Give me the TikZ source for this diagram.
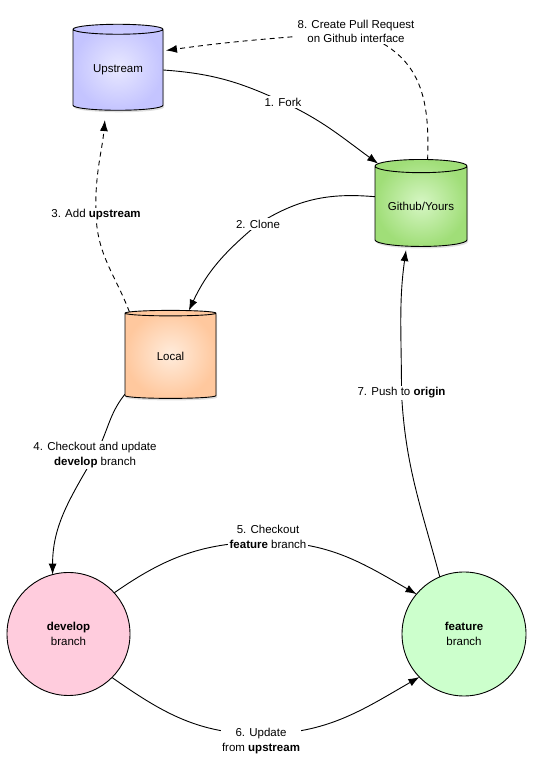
\documentclass[tikz,border=0pt]{standalone}
\usepackage{fontspec}
\setmainfont{Liberation Sans}
\usetikzlibrary{shapes.geometric,arrows.meta,backgrounds,shadows}

\definecolor{upOut}{RGB}{196,196,255}
\definecolor{upIn}{RGB}{232,232,255}
\definecolor{ghOut}{RGB}{160,222,120}
\definecolor{ghIn}{RGB}{214,246,196}
\definecolor{locOut}{RGB}{255,200,158}
\definecolor{locIn}{RGB}{255,236,220}
\definecolor{devFill}{RGB}{255,204,221}
\definecolor{featFill}{RGB}{204,255,204}

\begin{document}
\begin{tikzpicture}[x=1pt,y=1pt,
  every node/.style={font=\fontsize{11.5}{14.5}\selectfont},
  store/.style={cylinder, shape border rotate=90, aspect=0.2, draw=black,
    line width=0.9pt, inner sep=0pt, outer sep=0pt,
    drop shadow={opacity=0.25, shadow xshift=1pt, shadow yshift=-2pt}},
  branch/.style={circle, draw=black, line width=0.9pt, inner sep=0pt,
    outer sep=0pt, align=center},
  lbl/.style={fill=white, inner sep=1.5pt, align=center},
  conn/.style={line width=0.9pt, -{Latex[length=11pt,width=8pt]}},
  dashconn/.style={conn, dash pattern=on 5pt off 4pt}]

\useasboundingbox (0,0) rectangle (533,765);

% repositories
\node[store, inner color=upIn, outer color=upOut,
  minimum width=90pt, minimum height=86pt] (up) at (118,695) {Upstream};
\node[store, inner color=ghIn, outer color=ghOut,
  minimum width=92pt, minimum height=87pt] (gh) at (421,558.5) {Github/Yours};
\node[store, inner color=locIn, outer color=locOut,
  minimum width=91pt, minimum height=88pt] (loc) at (170.5,409) {Local};

% branches
\node[branch, fill=devFill, minimum size=123pt] (dev) at (68.5,131)
  {\textbf{develop}\\branch};
\node[branch, fill=featFill, minimum size=124pt] (feat) at (464,131)
  {\textbf{feature}\\branch};

% step labels
\node[lbl] (l1) at (283,663) {1. Fork};
\node[lbl] (l2) at (258,541) {2. Clone};
\node[lbl] (l3) at (96,550) {3. Add \textbf{upstream}};
\node[lbl] (l4) at (95,310) {4. Checkout and update\\\textbf{develop} branch};
\node[lbl] (l5) at (268,228) {5. Checkout\\\textbf{feature} branch};
\node[lbl] (l6) at (261,24) {6. Update\\from \textbf{upstream}};
\node[lbl] (l7) at (401.5,372) {7. Push to \textbf{origin}};
\node[lbl] (l8) at (356,733.5) {8. Create Pull Request\\on Github interface};

% connectors, kept behind the labels
\begin{scope}[on background layer]
\draw[conn] (up.east) to[out=-4,in=155] (l1.center)
  to[out=-25,in=144] (gh.135);
\draw[conn] (gh.168) to[out=175,in=32] (l2.center)
  to[out=-140,in=65] (loc.68);
\draw[dashconn, shorten >=10pt] (loc.133) to[out=111,in=-88] (l3.center)
  to[out=92,in=-95] (up.253);
\draw[conn] (loc.220) to[out=-129,in=60] (l4.center)
  to[out=-120,in=90] (dev.105);
\draw[conn] (dev.42) to[out=35,in=180] ([yshift=-5pt]l5.center)
  to[out=0,in=150] (feat.140);
\draw[conn] (dev.-45) to[out=-35,in=180] ([yshift=7pt]l6.center)
  to[out=0,in=-150] (feat.224);
\draw[conn, shorten >=4pt] (feat.113) to[out=105,in=-87] (l7.center)
  to[out=90,in=-98] (gh.250);
\draw[dashconn, shorten >=3pt] (gh.82) .. controls (430,670) and (420,712) ..
  (l8.center) to[out=185,in=8] (up.23);
\end{scope}
\end{tikzpicture}
\end{document}
